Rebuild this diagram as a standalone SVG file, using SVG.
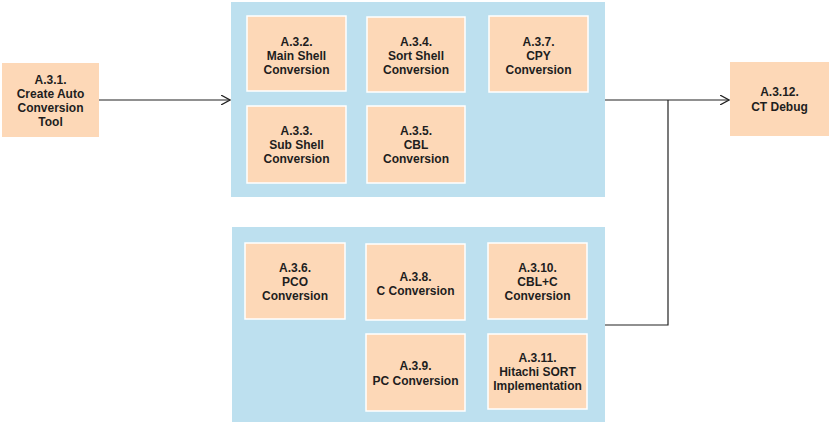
<svg xmlns="http://www.w3.org/2000/svg" width="829" height="425" viewBox="0 0 829 425">
<defs>
<style>
.grp{fill:#bde0ef}
.box{fill:#fdd8b7;stroke:#ffffff;stroke-width:1.5}
.solo{fill:#fdd8b7}
.t{font-family:"Liberation Sans",Arial,sans-serif;font-size:12px;fill:#1e1e1e;text-anchor:middle;font-weight:bold}
.c{fill:none;stroke:#222;stroke-width:1.2}
</style>
<marker id="arr" viewBox="0 0 10 10" refX="9" refY="5" markerWidth="10" markerHeight="10" markerUnits="userSpaceOnUse" orient="auto">
<path d="M0,0 L9,5 L0,10" fill="none" stroke="#222" stroke-width="1.2"/>
</marker>
</defs>
<rect width="829" height="425" fill="#ffffff"/>
<g id="container-top"><rect class="grp" x="231" y="2" width="374" height="195"/></g>
<g id="container-bottom"><rect class="grp" x="232" y="227" width="373" height="195"/></g>
<g id="connectors">
<path class="c" d="M99,100 H230" marker-end="url(#arr)"/>
<path class="c" d="M605,100 H729" marker-end="url(#arr)"/>
<path class="c" d="M605,325 H668 V100"/>
</g>
<g id="A3-1"><rect class="solo" x="2" y="63" width="97" height="74"/>
<text class="t" x="50.5" y="83.5">A.3.1.</text><text class="t" x="50.5" y="97.5">Create Auto</text><text class="t" x="50.5" y="111.5">Conversion</text><text class="t" x="50.5" y="125.5">Tool</text></g>
<g id="A3-2"><rect class="box" x="247" y="16" width="99" height="75"/>
<text class="t" x="296.5" y="45.5">A.3.2.</text><text class="t" x="296.5" y="59.5">Main Shell</text><text class="t" x="296.5" y="73.5">Conversion</text></g>
<g id="A3-3"><rect class="box" x="247" y="106" width="99" height="77"/>
<text class="t" x="296.5" y="134.5">A.3.3.</text><text class="t" x="296.5" y="148.5">Sub Shell</text><text class="t" x="296.5" y="162.5">Conversion</text></g>
<g id="A3-4"><rect class="box" x="367" y="17" width="98" height="75"/>
<text class="t" x="416" y="46">A.3.4.</text><text class="t" x="416" y="60">Sort Shell</text><text class="t" x="416" y="74">Conversion</text></g>
<g id="A3-5"><rect class="box" x="367" y="106" width="98" height="77"/>
<text class="t" x="416" y="134.5">A.3.5.</text><text class="t" x="416" y="148.5">CBL</text><text class="t" x="416" y="162.5">Conversion</text></g>
<g id="A3-7"><rect class="box" x="489" y="16" width="99" height="76"/>
<text class="t" x="538.5" y="45.5">A.3.7.</text><text class="t" x="538.5" y="59.5">CPY</text><text class="t" x="538.5" y="73.5">Conversion</text></g>
<g id="A3-6"><rect class="box" x="245" y="243" width="100" height="76"/>
<text class="t" x="295" y="272">A.3.6.</text><text class="t" x="295" y="286">PCO</text><text class="t" x="295" y="300">Conversion</text></g>
<g id="A3-8"><rect class="box" x="366" y="244" width="99" height="76"/>
<text class="t" x="415.5" y="280.5">A.3.8.</text><text class="t" x="415.5" y="295">C Conversion</text></g>
<g id="A3-10"><rect class="box" x="488" y="243" width="99" height="76"/>
<text class="t" x="537.5" y="272">A.3.10.</text><text class="t" x="537.5" y="286">CBL+C</text><text class="t" x="537.5" y="300">Conversion</text></g>
<g id="A3-9"><rect class="box" x="366" y="334" width="99" height="77"/>
<text class="t" x="415.5" y="370">A.3.9.</text><text class="t" x="415.5" y="385">PC Conversion</text></g>
<g id="A3-11"><rect class="box" x="488" y="334" width="99" height="75"/>
<text class="t" x="537.5" y="362">A.3.11.</text><text class="t" x="537.5" y="376">Hitachi SORT</text><text class="t" x="537.5" y="390">Implementation</text></g>
<g id="A3-12"><rect class="solo" x="730" y="62" width="99" height="74"/>
<text class="t" x="779.5" y="95.5">A.3.12.</text><text class="t" x="779.5" y="110.5">CT Debug</text></g>
</svg>
